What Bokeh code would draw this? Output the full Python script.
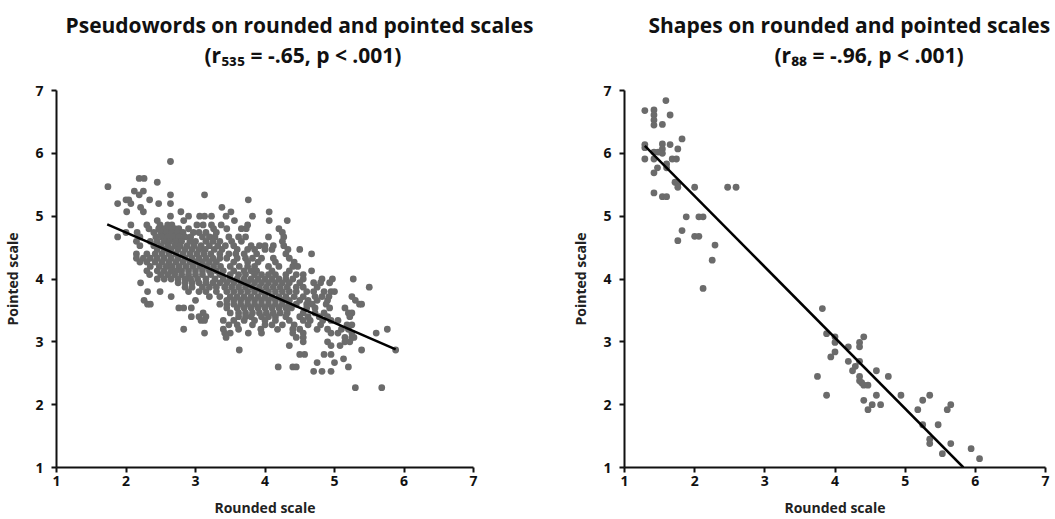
from bokeh.plotting import figure
from bokeh.layouts import row, column
from bokeh.models import Title, Range1d, FixedTicker
from bokeh.embed import file_html
from bokeh.resources import INLINE

# ---------------- data ----------------
# Pseudowords: pointed-scale level -> rounded-scale values of the points on that level
pw_rows = [
    (5.87, [2.64]),
    (5.60, [2.19, 2.26]),
    (5.54, [2.45]),
    (5.47, [1.74]),
    (5.40, [2.12, 2.25]),
    (5.34, [2.19, 2.64, 3.13]),
    (5.26, [2.0, 2.04, 2.34, 3.76]),
    (5.20, [1.88, 2.07, 2.47, 2.64]),
    (5.14, [2.21, 3.38]),
    (5.07, [2.01, 2.25, 2.79, 3.51, 4.06]),
    (5.00, [2.64, 2.9, 3.06, 3.13, 3.23, 3.44, 3.82]),
    (4.93, [2.45, 2.83, 3.56, 4.06, 4.32]),
    (4.86, [2.07, 2.3, 2.49, 2.6, 2.66, 3.02, 3.11, 3.23, 3.37, 3.75]),
    (4.80, [2.33, 2.47, 2.55, 2.62, 2.7, 2.76, 2.9, 3.26, 3.45, 3.66, 3.73, 4.2]),
    (4.74, [2.0, 2.16, 2.4, 2.5, 2.58, 2.66, 2.74, 2.82, 2.97, 3.05, 3.15, 3.3, 4.25]),
    (4.67, [1.88, 2.2, 2.43, 2.52, 2.6, 2.68, 2.76, 2.85, 2.93, 3.1, 3.2, 3.28, 3.48, 3.62, 3.72, 4.05, 4.27]),
    (4.60, [2.15, 2.35, 2.45, 2.55, 2.63, 2.72, 2.8, 2.92, 3.0, 3.15, 3.25, 3.35, 3.52, 3.66, 4.25]),
    (4.53, [2.2, 2.4, 2.5, 2.6, 2.7, 2.78, 2.88, 2.98, 3.08, 3.2, 3.32, 3.43, 3.55, 3.8, 3.92, 4.0, 4.12, 4.27]),
    (4.47, [2.45, 2.55, 2.65, 2.75, 2.85, 2.95, 3.05, 3.14, 3.27, 3.38, 3.6, 3.75, 3.85, 4.0, 4.1, 4.33, 4.5]),
    (4.40, [2.15, 2.3, 2.42, 2.52, 2.62, 2.72, 2.82, 2.92, 3.02, 3.12, 3.22, 3.35, 3.48, 3.58, 3.7, 3.88, 4.3, 4.67]),
    (4.33, [2.15, 2.25, 2.35, 2.45, 2.55, 2.65, 2.75, 2.85, 2.95, 3.05, 3.15, 3.25, 3.35, 3.45, 3.6, 3.72, 3.82, 3.95, 4.12, 4.35]),
    (4.27, [2.2, 2.3, 2.42, 2.52, 2.62, 2.72, 2.82, 2.92, 3.0, 3.1, 3.2, 3.3, 3.55, 3.75, 3.9, 4.15, 4.42]),
    (4.20, [2.35, 2.48, 2.58, 2.66, 2.76, 2.86, 2.96, 3.06, 3.16, 3.26, 3.36, 3.5, 3.63, 3.75, 3.85, 4.05, 4.2, 4.4, 4.47]),
    (4.13, [2.3, 2.45, 2.55, 2.65, 2.72, 2.8, 2.9, 3.0, 3.1, 3.2, 3.3, 3.4, 3.55, 3.7, 3.8, 3.88, 4.1, 4.35, 4.67]),
    (4.07, [2.34, 2.5, 2.6, 2.7, 2.8, 2.9, 3.0, 3.1, 3.22, 3.35, 3.5, 3.62, 3.72, 3.85, 3.95, 4.05, 4.15, 4.3, 4.45, 4.55]),
    (4.00, [2.45, 2.55, 2.65, 2.75, 2.85, 2.93, 3.03, 3.15, 3.28, 3.4, 3.5, 3.6, 3.7, 3.8, 3.9, 4.0, 4.1, 4.2, 4.3, 4.4, 4.55, 4.82, 4.97, 5.27]),
    (3.94, [2.21, 2.75, 2.85, 2.95, 3.05, 3.15, 3.25, 3.35, 3.45, 3.55, 3.65, 3.75, 3.85, 3.95, 4.05, 4.15, 4.25, 4.35, 4.5, 4.7, 4.8, 4.93]),
    (3.87, [2.85, 2.95, 3.1, 3.2, 3.3, 3.42, 3.52, 3.62, 3.72, 3.82, 3.92, 4.02, 4.12, 4.22, 4.32, 4.45, 4.55, 4.75, 5.5]),
    (3.80, [2.31, 2.49, 2.9, 3.05, 3.15, 3.3, 3.45, 3.55, 3.65, 3.75, 3.85, 3.95, 4.05, 4.15, 4.25, 4.35, 4.45, 4.6, 4.7, 4.85, 4.95, 5.0]),
    (3.72, [2.65, 3.2, 3.35, 3.5, 3.6, 3.7, 3.8, 3.9, 4.0, 4.1, 4.2, 4.3, 4.42, 4.55, 4.72, 4.82, 4.92, 5.25]),
    (3.66, [2.26, 3.0, 3.45, 3.55, 3.65, 3.75, 3.85, 3.95, 4.05, 4.15, 4.25, 4.35, 4.5, 4.62, 4.75, 4.9, 5.3]),
    (3.60, [2.31, 2.35, 3.35, 3.45, 3.55, 3.65, 3.75, 3.85, 3.95, 4.05, 4.15, 4.25, 4.35, 4.45, 4.6, 4.68, 4.88, 5.36, 5.39]),
    (3.54, [2.76, 2.83, 2.94, 3.45, 3.6, 3.7, 3.8, 3.9, 4.0, 4.1, 4.2, 4.3, 4.38, 4.6, 4.72, 4.93, 5.15]),
    (3.46, [3.11, 3.5, 3.62, 3.72, 3.82, 3.92, 4.02, 4.12, 4.22, 4.32, 4.55, 4.72, 4.85, 5.2, 5.25]),
    (3.40, [2.94, 3.05, 3.15, 3.62, 3.72, 3.8, 3.95, 4.05, 4.15, 4.3, 4.5, 4.62, 4.78, 4.9, 5.22]),
    (3.34, [3.08, 3.13, 3.4, 3.55, 3.7, 3.85, 4.0, 4.15, 4.35, 4.55, 4.65, 4.83, 4.95, 5.05]),
    (3.27, [3.48, 3.6, 3.82, 4.0, 4.1, 4.25, 4.42, 4.62, 4.8, 5.18, 5.25]),
    (3.20, [2.83, 3.4, 3.62, 3.94, 4.18, 4.4, 4.5, 4.75, 4.9, 5.1, 5.2, 5.76]),
    (3.14, [3.13, 3.42, 3.5, 3.76, 3.95, 4.4, 4.55, 4.95, 5.05, 5.25, 5.6]),
    (3.07, [3.44, 4.45, 4.55, 5.15, 5.25, 5.28]),
    (3.00, [4.55, 4.9, 5.15, 5.22]),
    (2.94, [4.35, 4.95, 5.08]),
    (2.87, [3.63, 5.39, 5.88]),
    (2.80, [4.5, 4.57, 4.85, 4.95]),
    (2.73, [5.13]),
    (2.67, [4.75, 5.0]),
    (2.60, [4.19, 4.4, 4.45, 5.2]),
    (2.53, [4.7, 4.82, 4.95]),
    (2.27, [5.3, 5.68]),
]

shape_rounded = [
    1.29, 1.29, 1.29, 1.29, 1.42, 1.42, 1.42, 1.42, 1.59, 1.65, 1.54, 1.82,
    1.54, 1.65, 1.54, 1.76, 1.42, 1.48, 1.54, 1.42, 1.68, 1.74, 1.60, 1.47,
    1.60, 1.42, 1.72, 1.76, 1.76, 1.42, 1.54, 1.60, 2.00, 2.47, 2.59, 1.88,
    2.06, 2.12, 1.82, 1.76, 2.00, 2.06, 2.29, 2.25, 2.12,
    3.82, 3.88, 4.00, 4.00, 4.00, 3.94, 4.19, 4.35, 4.35, 4.41, 4.19, 4.35,
    4.29, 4.25, 3.75, 4.35, 4.35, 4.38, 4.41, 4.47, 4.59, 4.76, 3.88, 4.59,
    4.94, 4.41, 4.53, 4.65, 4.47, 5.18, 5.25, 5.35, 5.60, 5.65, 5.25, 5.47,
    5.35, 5.35, 5.65, 5.53, 5.94, 6.06,
]
shape_pointed = [
    6.68, 6.14, 6.09, 5.91, 6.69, 6.61, 6.53, 6.45, 6.84, 6.61, 6.46, 6.23,
    6.15, 6.14, 6.07, 6.07, 6.02, 6.02, 6.00, 5.91, 5.91, 5.91, 5.83, 5.77,
    5.77, 5.69, 5.54, 5.51, 5.46, 5.37, 5.31, 5.31, 5.46, 5.46, 5.46, 4.99,
    4.99, 4.99, 4.77, 4.61, 4.68, 4.68, 4.54, 4.30, 3.85,
    3.53, 3.13, 3.08, 2.99, 2.84, 2.76, 2.92, 2.99, 2.92, 3.08, 2.69, 2.69,
    2.61, 2.54, 2.45, 2.45, 2.38, 2.35, 2.31, 2.31, 2.54, 2.45, 2.15, 2.15,
    2.15, 2.07, 2.00, 2.00, 1.92, 1.92, 2.07, 2.15, 1.92, 2.00, 1.68, 1.68,
    1.45, 1.38, 1.38, 1.22, 1.30, 1.14,
]

# regression lines (rounded-scale end points -> pointed-scale values)
pw_trend_x = [1.73, 5.88]
pw_trend_y = [4.87, 2.88]
shape_trend_x = [1.29, 5.83]
shape_trend_y = [6.12, 1.00]

pw_rounded = [x for _, xs in pw_rows for x in xs]
pw_pointed = [y for y, xs in pw_rows for _ in xs]

titles_line1 = ["Pseudowords on rounded and pointed scales", "Shapes on rounded and pointed scales"]
titles_line2 = ["(r\u2085\u2083\u2085 = -.65, p < .001)", "(r\u2088\u2088 = -.96, p < .001)"]
axis_ticks = [1, 2, 3, 4, 5, 6, 7]
x_label = "Rounded scale"
y_label = "Pointed scale"

FONT = "Open Sans"
DOT = "#6b6b6b"
HEAD_H = 80
TOTAL_H = 519
LEFT_W = 548
RIGHT_W = 1055 - LEFT_W


def make_head(width, bl, br, t1, t2, off1, off2):
    h = figure(width=width, height=HEAD_H, output_backend="svg", toolbar_location=None,
               title=None, x_axis_location=None, y_axis_location=None,
               min_border_left=bl, min_border_right=br, min_border_top=68, min_border_bottom=0,
               x_range=Range1d(0, 1), y_range=Range1d(0, 1))
    h.outline_line_color = None
    h.grid.visible = False
    h.background_fill_color = "white"
    h.border_fill_color = "white"
    # first added sits next to the (empty) frame, i.e. lower line
    h.add_layout(Title(text=t2, align="left", offset=off2, standoff=0, text_font=FONT,
                       text_font_size="21px", text_font_style="bold", text_color="#111111"), "above")
    h.add_layout(Title(text=t1, align="left", offset=off1, standoff=0, text_font=FONT,
                       text_font_size="21px", text_font_style="bold", text_color="#111111"), "above")
    return h


def make_panel(xs, ys, tx, ty, width, bl, br):
    p = figure(width=width, height=TOTAL_H - HEAD_H, output_backend="svg", toolbar_location=None,
               title=None, min_border_left=bl, min_border_right=br,
               min_border_top=90 - HEAD_H, min_border_bottom=52,
               x_range=Range1d(1, 7), y_range=Range1d(1, 7))
    p.outline_line_color = None
    p.grid.visible = False
    p.background_fill_color = "white"
    p.border_fill_color = "white"
    for ax in (p.xaxis[0], p.yaxis[0]):
        ax.ticker = FixedTicker(ticks=axis_ticks)
        ax.axis_line_width = 2
        ax.axis_line_color = "#111111"
        ax.major_tick_line_width = 2
        ax.major_tick_line_color = "#111111"
        ax.major_tick_out = 5
        ax.major_tick_in = 0
        ax.minor_tick_out = 0
        ax.minor_tick_in = 0
        ax.major_label_text_font = FONT
        ax.major_label_text_font_style = "bold"
        ax.major_label_text_font_size = "14px"
        ax.major_label_text_color = "#111111"
        ax.axis_label_text_font = FONT
        ax.axis_label_text_font_style = "bold"
        ax.axis_label_text_font_size = "14px"
        ax.axis_label_text_color = "#222222"
    p.xaxis.axis_label = x_label
    p.yaxis.axis_label = y_label
    p.xaxis.major_label_standoff = 3
    p.yaxis.major_label_standoff = 8
    p.xaxis.axis_label_standoff = 9
    p.yaxis.axis_label_standoff = 10

    p.scatter(xs, ys, size=6.8, color=DOT, line_color=None)
    p.line(tx, ty, line_color="black", line_width=2.5)
    return p


# left frame spans x 52..473, right frame spans x 624..1045 of the page
h1 = make_head(LEFT_W, 52, LEFT_W - 473, titles_line1[0], titles_line2[0], 9, 148)
h2 = make_head(RIGHT_W, 624 - LEFT_W, 10, titles_line1[1], titles_line2[1], 24, 150)
p1 = make_panel(pw_rounded, pw_pointed, pw_trend_x, pw_trend_y, LEFT_W, 52, LEFT_W - 473)
p2 = make_panel(shape_rounded, shape_pointed, shape_trend_x, shape_trend_y, RIGHT_W, 624 - LEFT_W, 10)

layout = row(column(h1, p1), column(h2, p2))
open("out.html", "w").write(file_html(layout, INLINE))
